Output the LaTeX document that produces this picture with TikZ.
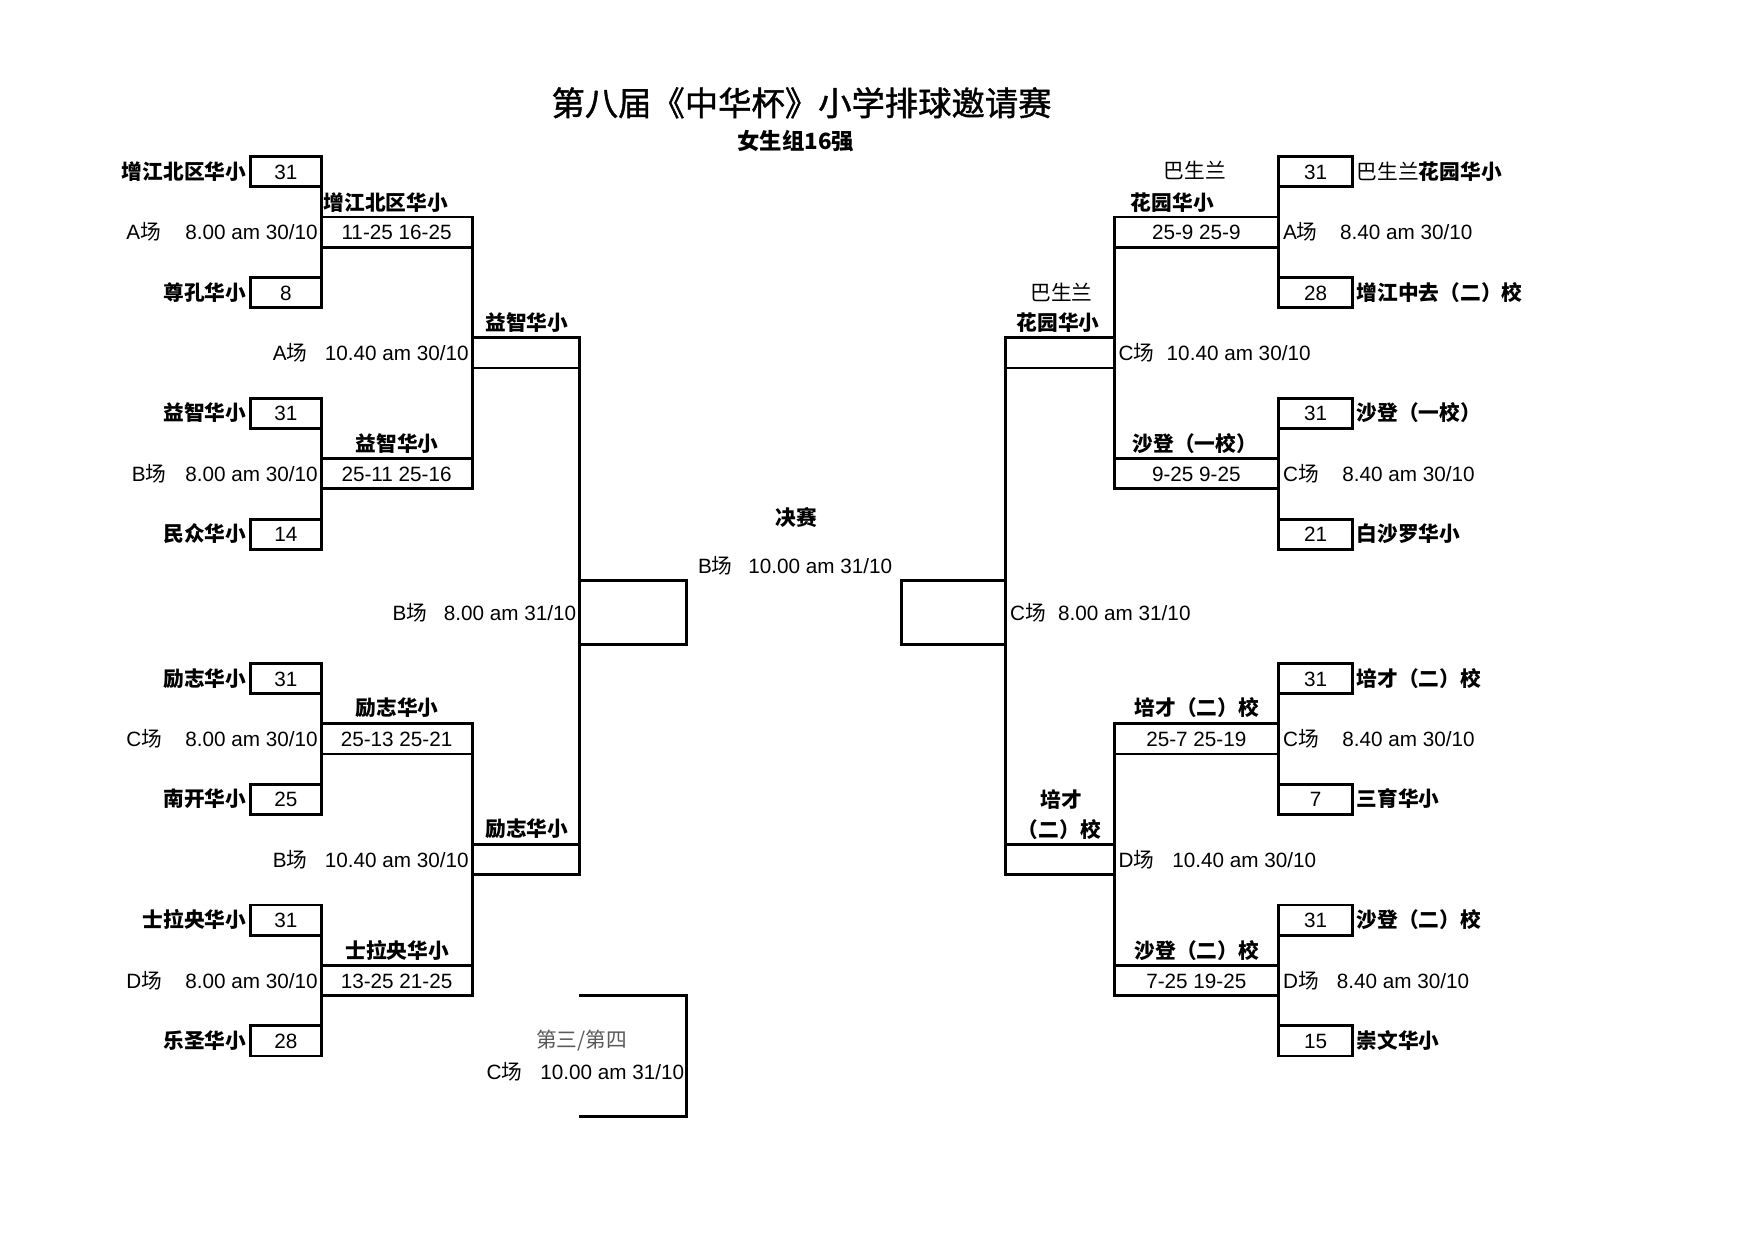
\documentclass[tikz,border=0pt]{standalone}
\usepackage{fontspec}
\setmainfont{Liberation Sans}
\newfontfamily\cjk{Noto Sans CJK SC}
\newfontfamily\cjktitle[FakeBold=1.2]{Noto Sans CJK SC}
\newcommand\fsn{\fontsize{18.5}{20}\selectfont}
\newcommand\ven[1]{#1{\cjk 场}}
\tikzset{
  every node/.style={inner sep=0pt, outer sep=0pt, text height=13.5pt, text depth=0pt, font=\fsn},
  lw/.style={line width=2.6pt},
  sbox/.style={draw, lw, minimum height=27pt, minimum width=63pt},
  rbox/.style={draw, lw, minimum height=27pt, minimum width=66pt},
  lmbox/.style={draw, lw, minimum height=27pt, minimum width=135pt},
  rmbox/.style={draw, lw, minimum height=27pt, minimum width=147pt},
  qbox/.style={draw, lw, minimum height=27pt, minimum width=96pt},
  semibox/.style={draw, lw, minimum height=57pt},
  link/.style={lw},
  win/.style={font=\fsn\cjk\bfseries},
  team/.style={font=\fsn\cjk\bfseries},
  grayt/.style={text=black!65, font=\fsn\cjk},
}
\begin{document}
\begin{tikzpicture}[x=1pt,y=-1pt]
\useasboundingbox (0,0) rectangle (1568,1108.5);
% titles
\node[font=\fontsize{29.8}{32}\selectfont\cjktitle, text height=22.6pt] (title) at (716.5,92) {第八届《中华杯》小学排球邀请赛};
\node[font=\fontsize{20}{22}\selectfont\cjk\bfseries, text height=15.2pt] (subtitle) at (711.5,126) {女生组16强};

% ---------------- LEFT ----------------
\node[sbox] (L1) at (255.5,153.5) {31};
\node[sbox] (L2) at (255.5,261.5) {8};
\node[sbox] (L3) at (255.5,369.5) {31};
\node[sbox] (L4) at (255.5,477.5) {14};
\node[sbox] (L5) at (255.5,606.5) {31};
\node[sbox] (L6) at (255.5,714.5) {25};
\node[sbox] (L7) at (255.5,822.5) {31};
\node[sbox] (L8) at (255.5,930.5) {28};
\node[team, anchor=east] (tL1) at (220,153.5) {增江北区华小};
\node[team, anchor=east] (tL2) at (220,261.5) {尊孔华小};
\node[team, anchor=east] (tL3) at (220,369.5) {益智华小};
\node[team, anchor=east] (tL4) at (220,477.5) {民众华小};
\node[team, anchor=east] (tL5) at (220,606.5) {励志华小};
\node[team, anchor=east] (tL6) at (220,714.5) {南开华小};
\node[team, anchor=east] (tL7) at (220,822.5) {士拉央华小};
\node[team, anchor=east] (tL8) at (220,930.5) {乐圣华小};

\node[lmbox] (LM1) at (354.5,207.5) {11-25 16-25};
\node[lmbox] (LM2) at (354.5,423.5) {25-11 25-16};
\node[lmbox] (LM3) at (354.5,660.5) {25-13 25-21};
\node[lmbox] (LM4) at (354.5,876.5) {13-25 21-25};
\node[win] (wLM1) at (345,181) {增江北区华小};
\node[win] (wLM2) at (355,397) {益智华小};
\node[win] (wLM3) at (355,633) {励志华小};
\node[win] (wLM4) at (355,850) {士拉央华小};
\node[anchor=west] (vLM1) at (113,207.5) {\ven{A}};
\node[anchor=west] (vLM2) at (118,423.5) {\ven{B}};
\node[anchor=west] (vLM3) at (113,660.5) {\ven{C}};
\node[anchor=west] (vLM4) at (113,876.5) {\ven{D}};
\node[anchor=east] (sLM1) at (284,207.5) {8.00 am 30/10};
\node[anchor=east] (sLM2) at (284,423.5) {8.00 am 30/10};
\node[anchor=east] (sLM3) at (284,660.5) {8.00 am 30/10};
\node[anchor=east] (sLM4) at (284,876.5) {8.00 am 30/10};

\node[qbox] (LQ1) at (470,315.5) {};
\node[qbox] (LQ2) at (470,768.5) {};
\node[win] (wLQ1) at (471,289) {益智华小};
\node[win] (wLQ2) at (471,741) {励志华小};
\node[anchor=west] (vLQ1) at (244,315.5) {\ven{A}};
\node[anchor=west] (vLQ2) at (244,768.5) {\ven{B}};
\node[anchor=east] (sLQ1) at (419,315.5) {10.40 am 30/10};
\node[anchor=east] (sLQ2) at (419,768.5) {10.40 am 30/10};

\node[semibox, minimum width=96pt] (LS) at (566,547.5) {};
\node[anchor=west] (vLS) at (351,548) {\ven{B}};
\node[anchor=east] (sLS) at (515,548) {8.00 am 31/10};

\draw[link] (L1.south east) -- (L2.north east);
\draw[link] (L3.south east) -- (L4.north east);
\draw[link] (L5.south east) -- (L6.north east);
\draw[link] (L7.south east) -- (L8.north east);
\draw[link] (LM1.south east) -- (LM2.north east);
\draw[link] (LM3.south east) -- (LM4.north east);
\draw[link] (LQ1.south east) -- (LQ2.north east);

% ---------------- FINAL ----------------
\node[win] (final) at (712,463) {决赛};
\node[anchor=west] (vF) at (624,506) {\ven{B}};
\node[anchor=west] (sF) at (669,506) {10.00 am 31/10};

% third / fourth
\coordinate (T1) at (518,890);
\coordinate (T2) at (614,890);
\coordinate (T3) at (614,998);
\coordinate (T4) at (518,998);
\draw[link] (T1) -- (T2) -- (T3) -- (T4);
\node[grayt] (third) at (520,930) {第三/第四};
\node[anchor=west] (vT) at (435,958) {\ven{C}};
\node[anchor=west] (sT) at (483,958) {10.00 am 31/10};

% ---------------- RIGHT ----------------
\node[rbox] (R1) at (1176,153.5) {31};
\node[rbox] (R2) at (1176,261.5) {28};
\node[rbox] (R3) at (1176,369.5) {31};
\node[rbox] (R4) at (1176,477.5) {21};
\node[rbox] (R5) at (1176,606.5) {31};
\node[rbox] (R6) at (1176,714.5) {7};
\node[rbox] (R7) at (1176,822.5) {31};
\node[rbox] (R8) at (1176,930.5) {15};
\node[team, anchor=west] (tR1) at (1213,153.5) {\mdseries 巴生兰\bfseries 花园华小};
\node[team, anchor=west] (tR2) at (1213,261.5) {增江中去（二）校};
\node[team, anchor=west] (tR3) at (1213,369.5) {沙登（一校）};
\node[team, anchor=west] (tR4) at (1213,477.5) {白沙罗华小};
\node[team, anchor=west] (tR5) at (1213,606.5) {培才（二）校};
\node[team, anchor=west] (tR6) at (1213,714.5) {三育华小};
\node[team, anchor=west] (tR7) at (1213,822.5) {沙登（二）校};
\node[team, anchor=west] (tR8) at (1213,930.5) {崇文华小};

\node[rmbox] (RM1) at (1069.5,207.5) {25-9 25-9};
\node[rmbox] (RM2) at (1069.5,423.5) {9-25 9-25};
\node[rmbox] (RM3) at (1069.5,660.5) {25-7 25-19};
\node[rmbox] (RM4) at (1069.5,876.5) {7-25 19-25};
\node[font=\fsn\cjk] (wRM1a) at (1068,153) {巴生兰};
\node[win] (wRM1b) at (1048,181) {花园华小};
\node[win] (wRM2) at (1068,397) {沙登（一校）};
\node[win] (wRM3) at (1070,633) {培才（二）校};
\node[win] (wRM4) at (1070,850) {沙登（二）校};
\node[anchor=west] (vRM1) at (1147,207.5) {\ven{A}};
\node[anchor=west] (vRM2) at (1147,423.5) {\ven{C}};
\node[anchor=west] (vRM3) at (1147,660.5) {\ven{C}};
\node[anchor=west] (vRM4) at (1147,876.5) {\ven{D}};
\node[anchor=west] (sRM1) at (1198,207.5) {8.40 am 30/10};
\node[anchor=west] (sRM2) at (1200,423.5) {8.40 am 30/10};
\node[anchor=west] (sRM3) at (1200,660.5) {8.40 am 30/10};
\node[anchor=west] (sRM4) at (1195,876.5) {8.40 am 30/10};

\node[qbox, minimum width=97pt] (RQ1) at (947.5,315.5) {};
\node[qbox, minimum width=97pt] (RQ2) at (947.5,768.5) {};
\node[font=\fsn\cjk] (wRQ1a) at (949,262) {巴生兰};
\node[win] (wRQ1b) at (946,289) {花园华小};
\node[win] (wRQ2a) at (949,715) {培才};
\node[win] (wRQ2b) at (947,742) {（二）校};
\node[anchor=west] (vRQ1) at (1000,315.5) {\ven{C}};
\node[anchor=west] (vRQ2) at (1000,768.5) {\ven{D}};
\node[anchor=west] (sRQ1) at (1043,315.5) {10.40 am 30/10};
\node[anchor=west] (sRQ2) at (1048,768.5) {10.40 am 30/10};

\node[semibox, minimum width=93pt] (RS) at (852.5,547.5) {};
\node[anchor=west] (vRS) at (903,548) {\ven{C}};
\node[anchor=west] (sRS) at (946,548) {8.00 am 31/10};

\draw[link] (R1.south west) -- (R2.north west);
\draw[link] (R3.south west) -- (R4.north west);
\draw[link] (R5.south west) -- (R6.north west);
\draw[link] (R7.south west) -- (R8.north west);
\draw[link] (RM1.south west) -- (RM2.north west);
\draw[link] (RM3.south west) -- (RM4.north west);
\draw[link] (RQ1.south west) -- (RQ2.north west);
\end{tikzpicture}
\end{document}
